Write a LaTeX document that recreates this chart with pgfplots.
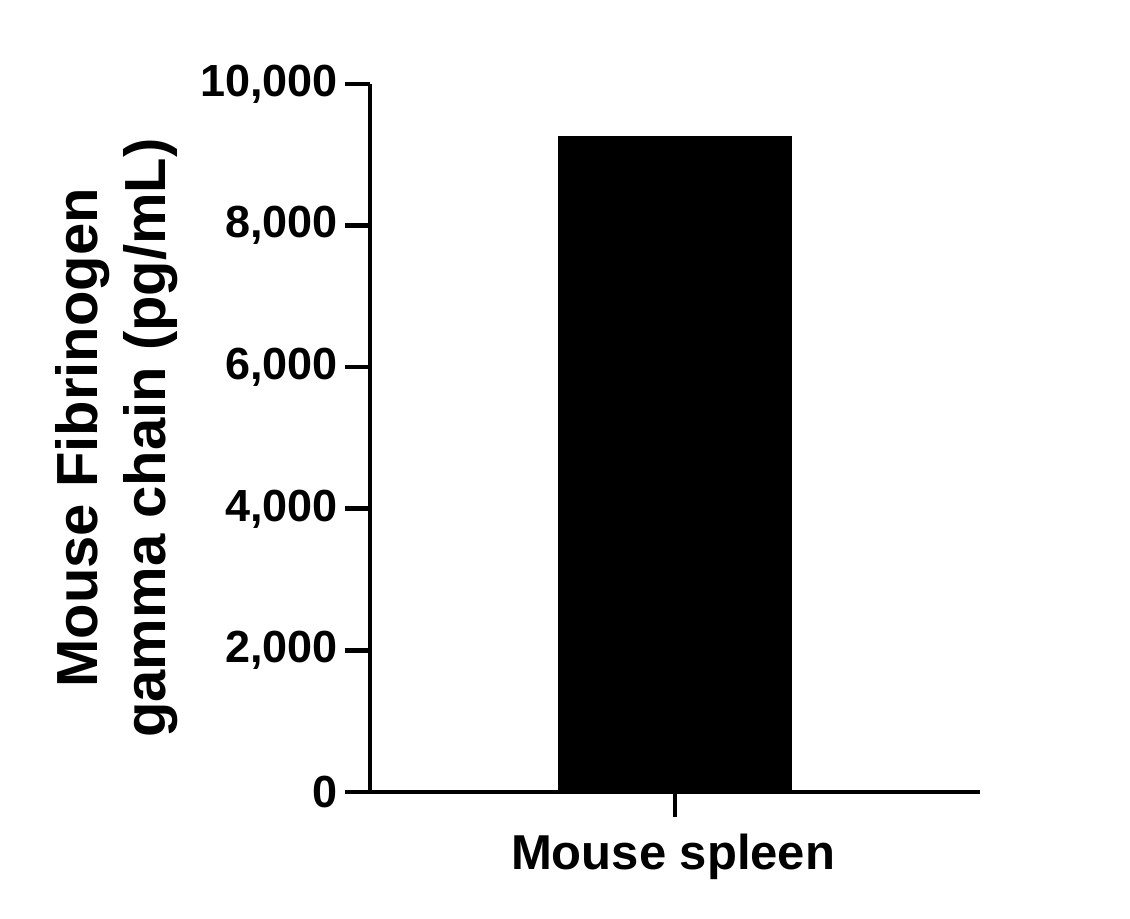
\documentclass[border=0pt]{standalone}
\usepackage{fontspec}
\setmainfont{Liberation Sans}
\usepackage{pgfplots}
\pgfplotsset{compat=1.18}

\begin{document}
\begin{tikzpicture}
\begin{axis}[
	at={(185pt,63.5pt)}, anchor=south west,
	scale only axis,
	width=305pt, height=354pt,
	axis lines*=left,
	axis line style={-, line width=2.3pt},
	xmin=-1, xmax=1,
	ymin=0, ymax=10000,
	xtick={0}, xticklabels={},
	ytick={0,2000,4000,6000,8000,10000},
	scaled y ticks=false,
	tick align=outside,
	major tick length=12.5pt,
	every tick/.style={black, line width=2.3pt},
	tick label style={font=\fontsize{22.5}{25}\selectfont\bfseries},
	yticklabel style={/pgf/number format/fixed},
	/pgf/number format/assume math mode=true,
	/pgf/number format/1000 sep={,},
	ylabel={Mouse Fibrinogen\\gamma chain (pg/mL)},
	ylabel style={font=\fontsize{29}{34}\selectfont\bfseries, align=center,
		at={(axis description cs:-0.4156,0.5)}, anchor=center},
	clip=false,
]
\addplot[ybar, bar width=117pt, fill=black, draw=none]
	coordinates {(0,9270)};
\node[font=\fontsize{24.5}{28}\selectfont\bfseries, anchor=center]
	at (axis description cs:0.497,-0.092) {Mouse spleen};
\end{axis}
\pgfresetboundingbox
\useasboundingbox (0,0) rectangle (565pt,459.5pt);
\end{tikzpicture}
\end{document}
